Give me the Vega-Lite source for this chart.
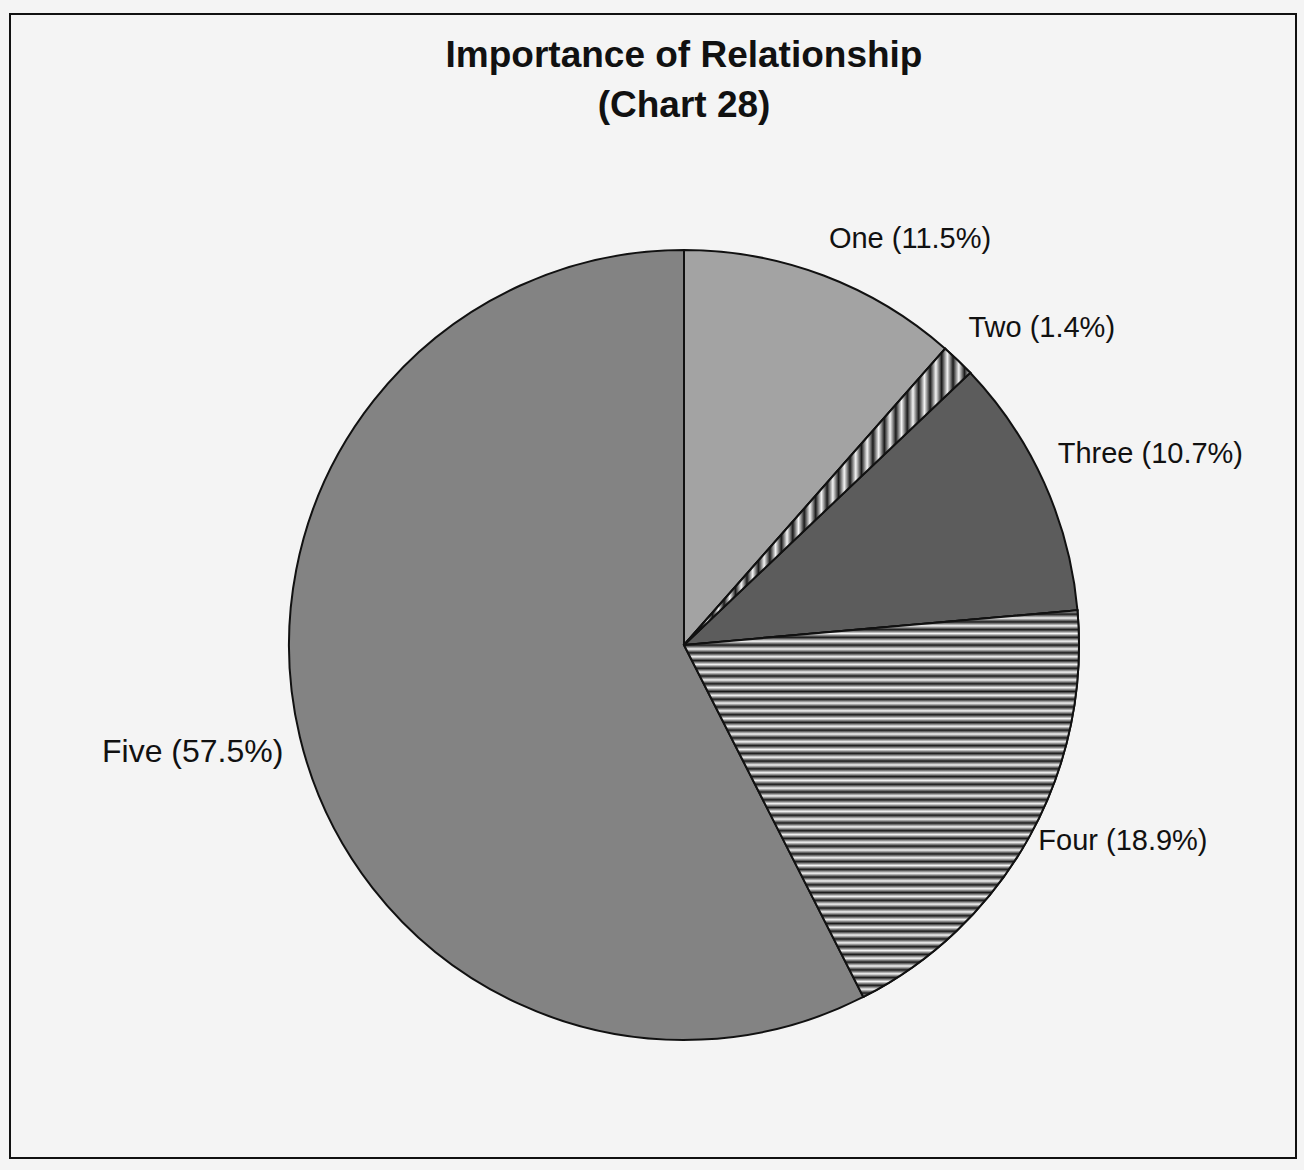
{
  "$schema": "https://vega.github.io/schema/vega-lite/v6.json",
  "width": 1286,
  "height": 1144,
  "autosize": {"type": "none"},
  "padding": {"left": 10, "top": 14, "right": 8, "bottom": 12},
  "background": "#f4f4f4",
  "view": {"stroke": "#111111", "strokeWidth": 2},
  "config": {"view": {"stroke": "#111111", "strokeWidth": 2}},
  "title": {
    "text": ["Importance of Relationship", "(Chart 28)"],
    "font": "Liberation Sans",
    "fontSize": 37,
    "fontWeight": "bold",
    "color": "#111111",
    "anchor": "middle",
    "frame": "group",
    "orient": "top",
    "offset": -111,
    "baseline": "top",
    "lineHeight": 50,
    "dx": 31
  },
  "data": {
    "values": [
      {"category": "One", "label": "One (11.5%)", "value": 11.5, "order": 1},
      {"category": "Two", "label": "Two (1.4%)", "value": 1.4, "order": 2},
      {"category": "Three", "label": "Three (10.7%)", "value": 10.7, "order": 3},
      {"category": "Four", "label": "Four (18.9%)", "value": 18.9, "order": 4},
      {"category": "Five", "label": "Five (57.5%)", "value": 57.5, "order": 5}
    ]
  },
  "layer": [
    {
      "mark": {"type": "arc", "outerRadius": 395, "stroke": "#111111", "strokeWidth": 2, "xOffset": 31, "yOffset": 59},
      "encoding": {
        "theta": {"field": "value", "type": "quantitative", "stack": true},
        "order": {"field": "order", "type": "quantitative"},
        "color": {
          "field": "category",
          "type": "nominal",
          "scale": {"domain": ["One", "Two", "Three", "Four", "Five"], "range": ["#a3a3a3", "#8e8e8e", "#5c5c5c", "#a8a8a8", "#838383"]},
          "legend": null
        }
      }
    },
    {
      "transform": [
        {"stack": "value", "groupby": [], "sort": [{"field": "order", "order": "ascending"}], "as": ["v0", "v1"]},
        {"filter": "datum.category == 'Four'"}
      ],
      "mark": {
        "type": "arc", "outerRadius": 395, "stroke": "#111111", "strokeWidth": 2, "xOffset": 31, "yOffset": 59,
        "fill": {
          "gradient": "linear", "x1": 0, "y1": 0, "x2": 0, "y2": 1,
          "stops": [
            {"offset": 0.00, "color": "#f4f4f4"}, {"offset": 0.01, "color": "#1a1a1a"},
            {"offset": 0.02, "color": "#f4f4f4"}, {"offset": 0.03, "color": "#1a1a1a"},
            {"offset": 0.04, "color": "#f4f4f4"}, {"offset": 0.05, "color": "#1a1a1a"},
            {"offset": 0.06, "color": "#f4f4f4"}, {"offset": 0.07, "color": "#1a1a1a"},
            {"offset": 0.08, "color": "#f4f4f4"}, {"offset": 0.09, "color": "#1a1a1a"},
            {"offset": 0.10, "color": "#f4f4f4"}, {"offset": 0.11, "color": "#1a1a1a"},
            {"offset": 0.12, "color": "#f4f4f4"}, {"offset": 0.13, "color": "#1a1a1a"},
            {"offset": 0.14, "color": "#f4f4f4"}, {"offset": 0.15, "color": "#1a1a1a"},
            {"offset": 0.16, "color": "#f4f4f4"}, {"offset": 0.17, "color": "#1a1a1a"},
            {"offset": 0.18, "color": "#f4f4f4"}, {"offset": 0.19, "color": "#1a1a1a"},
            {"offset": 0.20, "color": "#f4f4f4"}, {"offset": 0.21, "color": "#1a1a1a"},
            {"offset": 0.22, "color": "#f4f4f4"}, {"offset": 0.23, "color": "#1a1a1a"},
            {"offset": 0.24, "color": "#f4f4f4"}, {"offset": 0.25, "color": "#1a1a1a"},
            {"offset": 0.26, "color": "#f4f4f4"}, {"offset": 0.27, "color": "#1a1a1a"},
            {"offset": 0.28, "color": "#f4f4f4"}, {"offset": 0.29, "color": "#1a1a1a"},
            {"offset": 0.30, "color": "#f4f4f4"}, {"offset": 0.31, "color": "#1a1a1a"},
            {"offset": 0.32, "color": "#f4f4f4"}, {"offset": 0.33, "color": "#1a1a1a"},
            {"offset": 0.34, "color": "#f4f4f4"}, {"offset": 0.35, "color": "#1a1a1a"},
            {"offset": 0.36, "color": "#f4f4f4"}, {"offset": 0.37, "color": "#1a1a1a"},
            {"offset": 0.38, "color": "#f4f4f4"}, {"offset": 0.39, "color": "#1a1a1a"},
            {"offset": 0.40, "color": "#f4f4f4"}, {"offset": 0.41, "color": "#1a1a1a"},
            {"offset": 0.42, "color": "#f4f4f4"}, {"offset": 0.43, "color": "#1a1a1a"},
            {"offset": 0.44, "color": "#f4f4f4"}, {"offset": 0.45, "color": "#1a1a1a"},
            {"offset": 0.46, "color": "#f4f4f4"}, {"offset": 0.47, "color": "#1a1a1a"},
            {"offset": 0.48, "color": "#f4f4f4"}, {"offset": 0.49, "color": "#1a1a1a"},
            {"offset": 0.50, "color": "#f4f4f4"}, {"offset": 0.51, "color": "#1a1a1a"},
            {"offset": 0.52, "color": "#f4f4f4"}, {"offset": 0.53, "color": "#1a1a1a"},
            {"offset": 0.54, "color": "#f4f4f4"}, {"offset": 0.55, "color": "#1a1a1a"},
            {"offset": 0.56, "color": "#f4f4f4"}, {"offset": 0.57, "color": "#1a1a1a"},
            {"offset": 0.58, "color": "#f4f4f4"}, {"offset": 0.59, "color": "#1a1a1a"},
            {"offset": 0.60, "color": "#f4f4f4"}, {"offset": 0.61, "color": "#1a1a1a"},
            {"offset": 0.62, "color": "#f4f4f4"}, {"offset": 0.63, "color": "#1a1a1a"},
            {"offset": 0.64, "color": "#f4f4f4"}, {"offset": 0.65, "color": "#1a1a1a"},
            {"offset": 0.66, "color": "#f4f4f4"}, {"offset": 0.67, "color": "#1a1a1a"},
            {"offset": 0.68, "color": "#f4f4f4"}, {"offset": 0.69, "color": "#1a1a1a"},
            {"offset": 0.70, "color": "#f4f4f4"}, {"offset": 0.71, "color": "#1a1a1a"},
            {"offset": 0.72, "color": "#f4f4f4"}, {"offset": 0.73, "color": "#1a1a1a"},
            {"offset": 0.74, "color": "#f4f4f4"}, {"offset": 0.75, "color": "#1a1a1a"},
            {"offset": 0.76, "color": "#f4f4f4"}, {"offset": 0.77, "color": "#1a1a1a"},
            {"offset": 0.78, "color": "#f4f4f4"}, {"offset": 0.79, "color": "#1a1a1a"},
            {"offset": 0.80, "color": "#f4f4f4"}, {"offset": 0.81, "color": "#1a1a1a"},
            {"offset": 0.82, "color": "#f4f4f4"}, {"offset": 0.83, "color": "#1a1a1a"},
            {"offset": 0.84, "color": "#f4f4f4"}, {"offset": 0.85, "color": "#1a1a1a"},
            {"offset": 0.86, "color": "#f4f4f4"}, {"offset": 0.87, "color": "#1a1a1a"},
            {"offset": 0.88, "color": "#f4f4f4"}, {"offset": 0.89, "color": "#1a1a1a"},
            {"offset": 0.90, "color": "#f4f4f4"}, {"offset": 0.91, "color": "#1a1a1a"},
            {"offset": 0.92, "color": "#f4f4f4"}, {"offset": 0.93, "color": "#1a1a1a"},
            {"offset": 0.94, "color": "#f4f4f4"}, {"offset": 0.95, "color": "#1a1a1a"},
            {"offset": 0.96, "color": "#f4f4f4"}, {"offset": 0.97, "color": "#1a1a1a"},
            {"offset": 0.98, "color": "#f4f4f4"}, {"offset": 0.99, "color": "#1a1a1a"},
            {"offset": 1.00, "color": "#f4f4f4"}
          ]
        }
      },
      "encoding": {
        "theta": {"field": "v0", "type": "quantitative"},
        "theta2": {"field": "v1"}
      }
    },
    {
      "transform": [
        {"stack": "value", "groupby": [], "sort": [{"field": "order", "order": "ascending"}], "as": ["v0", "v1"]},
        {"filter": "datum.category == 'Two'"}
      ],
      "mark": {
        "type": "arc", "outerRadius": 395, "stroke": "#111111", "strokeWidth": 2, "xOffset": 31, "yOffset": 59,
        "fill": {
          "gradient": "linear", "x1": 0, "y1": 0, "x2": 1, "y2": 0,
          "stops": [
            {"offset": 0.00, "color": "#f4f4f4"}, {"offset": 0.02, "color": "#1a1a1a"},
            {"offset": 0.04, "color": "#f4f4f4"}, {"offset": 0.06, "color": "#1a1a1a"},
            {"offset": 0.08, "color": "#f4f4f4"}, {"offset": 0.10, "color": "#1a1a1a"},
            {"offset": 0.12, "color": "#f4f4f4"}, {"offset": 0.14, "color": "#1a1a1a"},
            {"offset": 0.16, "color": "#f4f4f4"}, {"offset": 0.18, "color": "#1a1a1a"},
            {"offset": 0.20, "color": "#f4f4f4"}, {"offset": 0.22, "color": "#1a1a1a"},
            {"offset": 0.24, "color": "#f4f4f4"}, {"offset": 0.26, "color": "#1a1a1a"},
            {"offset": 0.28, "color": "#f4f4f4"}, {"offset": 0.30, "color": "#1a1a1a"},
            {"offset": 0.32, "color": "#f4f4f4"}, {"offset": 0.34, "color": "#1a1a1a"},
            {"offset": 0.36, "color": "#f4f4f4"}, {"offset": 0.38, "color": "#1a1a1a"},
            {"offset": 0.40, "color": "#f4f4f4"}, {"offset": 0.42, "color": "#1a1a1a"},
            {"offset": 0.44, "color": "#f4f4f4"}, {"offset": 0.46, "color": "#1a1a1a"},
            {"offset": 0.48, "color": "#f4f4f4"}, {"offset": 0.50, "color": "#1a1a1a"},
            {"offset": 0.52, "color": "#f4f4f4"}, {"offset": 0.54, "color": "#1a1a1a"},
            {"offset": 0.56, "color": "#f4f4f4"}, {"offset": 0.58, "color": "#1a1a1a"},
            {"offset": 0.60, "color": "#f4f4f4"}, {"offset": 0.62, "color": "#1a1a1a"},
            {"offset": 0.64, "color": "#f4f4f4"}, {"offset": 0.66, "color": "#1a1a1a"},
            {"offset": 0.68, "color": "#f4f4f4"}, {"offset": 0.70, "color": "#1a1a1a"},
            {"offset": 0.72, "color": "#f4f4f4"}, {"offset": 0.74, "color": "#1a1a1a"},
            {"offset": 0.76, "color": "#f4f4f4"}, {"offset": 0.78, "color": "#1a1a1a"},
            {"offset": 0.80, "color": "#f4f4f4"}, {"offset": 0.82, "color": "#1a1a1a"},
            {"offset": 0.84, "color": "#f4f4f4"}, {"offset": 0.86, "color": "#1a1a1a"},
            {"offset": 0.88, "color": "#f4f4f4"}, {"offset": 0.90, "color": "#1a1a1a"},
            {"offset": 0.92, "color": "#f4f4f4"}, {"offset": 0.94, "color": "#1a1a1a"},
            {"offset": 0.96, "color": "#f4f4f4"}, {"offset": 0.98, "color": "#1a1a1a"},
            {"offset": 1.00, "color": "#f4f4f4"}
          ]
        }
      },
      "encoding": {
        "theta": {"field": "v0", "type": "quantitative"},
        "theta2": {"field": "v1"}
      }
    },
    {
      "mark": {"type": "text", "radius": 410, "align": "left", "baseline": "middle", "dy": -22, "font": "Liberation Sans", "fontSize": 29, "color": "#111111", "xOffset": 31, "yOffset": 59},
      "encoding": {
        "theta": {"field": "value", "type": "quantitative", "stack": true},
        "order": {"field": "order", "type": "quantitative"},
        "text": {"condition": {"test": "datum.category == 'Four' || datum.category == 'Five'", "value": ""}, "field": "label", "type": "nominal"}
      }
    },
    {
      "mark": {"type": "text", "radius": 405, "align": "left", "baseline": "middle", "font": "Liberation Sans", "fontSize": 29, "color": "#111111", "xOffset": 31, "yOffset": 59},
      "encoding": {
        "theta": {"field": "value", "type": "quantitative", "stack": true},
        "order": {"field": "order", "type": "quantitative"},
        "text": {"condition": {"test": "datum.category != 'Four'", "value": ""}, "field": "label", "type": "nominal"}
      }
    },
    {
      "mark": {"type": "text", "radius": 412, "align": "right", "baseline": "middle", "dy": 11, "font": "Liberation Sans", "fontSize": 32, "color": "#111111", "xOffset": 31, "yOffset": 59},
      "encoding": {
        "theta": {"field": "value", "type": "quantitative", "stack": true},
        "order": {"field": "order", "type": "quantitative"},
        "text": {"condition": {"test": "datum.category != 'Five'", "value": ""}, "field": "label", "type": "nominal"}
      }
    }
  ]
}
